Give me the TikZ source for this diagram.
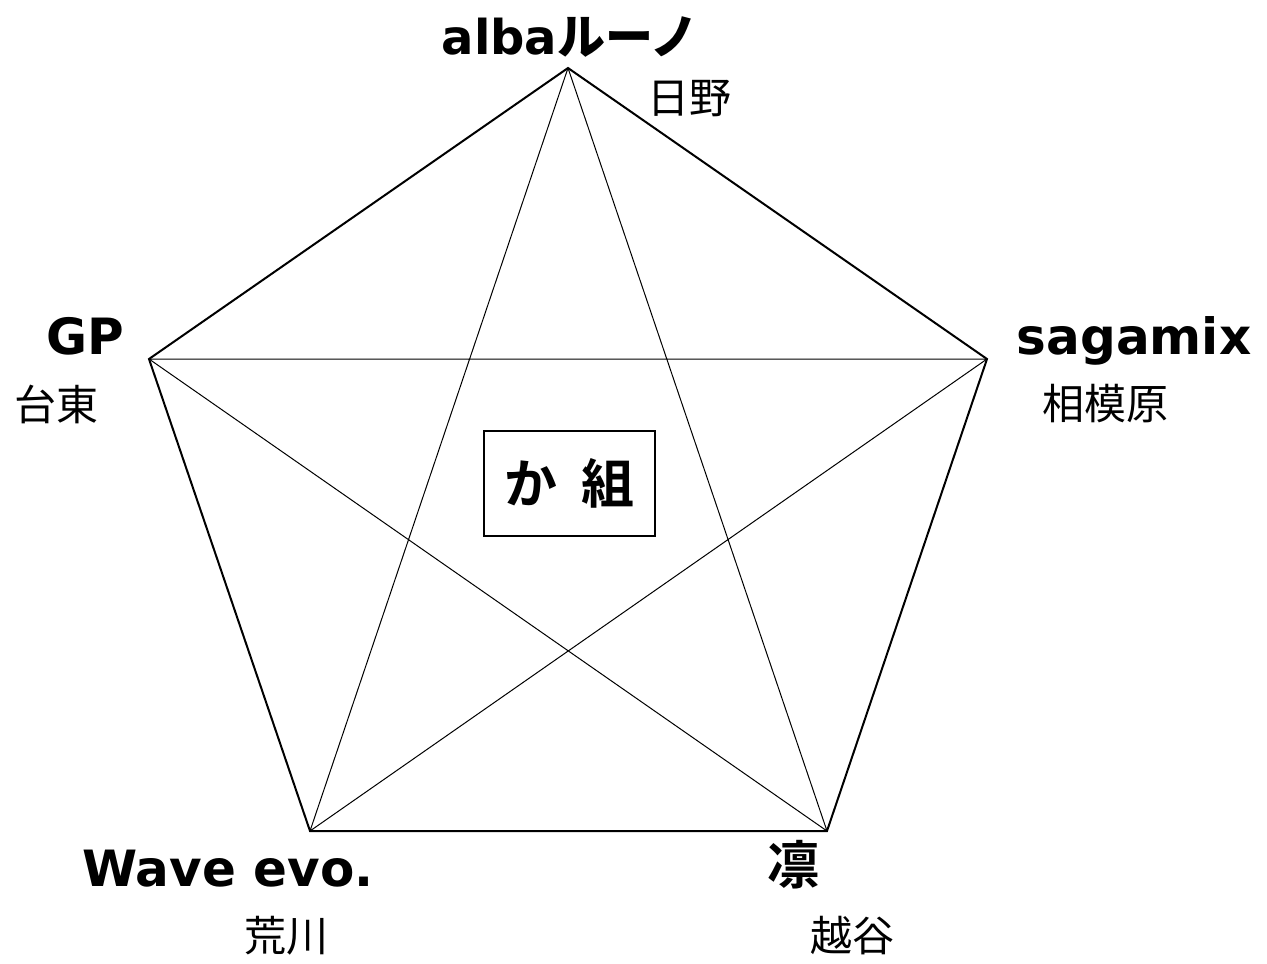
\documentclass[tikz,border=0pt]{standalone}
\usepackage{fontspec}
\setmainfont{DejaVu Sans}
\newfontfamily\cjk{Noto Sans CJK JP}
\newfontfamily\cjkb{Noto Sans CJK JP Bold}
\tikzset{
  team/.style={font=\fontsize{50}{52}\selectfont\bfseries, inner sep=0pt, anchor=base},
  town/.style={font=\fontsize{42}{44}\selectfont\cjk, inner sep=0pt},
  outer/.style={line width=2pt, line join=miter},
  diag/.style={line width=1pt},
}
\begin{document}
\begin{tikzpicture}[x=1pt,y=-1pt]
\useasboundingbox (0,0) rectangle (1267,964);
\coordinate (A) at (568,68);
\coordinate (S) at (987,359);
\coordinate (R) at (827,831);
\coordinate (W) at (310,831);
\coordinate (G) at (149,359);
\draw[diag] (A) -- (R) (A) -- (W) (G) -- (S) (G) -- (R) (S) -- (W);
\draw[outer] (A) -- (S) -- (R) -- (W) -- (G) -- cycle;
\node[draw, line width=2pt, minimum width=171pt, minimum height=105pt, inner sep=0pt,
      font=\fontsize{53}{55}\selectfont\cjkb] (box) at (569.5,483.5) {か\kern 24pt組};
\node[team, font=\fontsize{48}{50}\selectfont\bfseries] (tA) at (570,54) {alba{\cjkb ルーノ}};
\node[town] (cA) at (689,99) {日野};
\node[team] (tG) at (85,354) {GP};
\node[town] (cG) at (56,404) {台東};
\node[team] (tS) at (1134,354) {sagamix};
\node[town] (cS) at (1105,404) {相模原};
\node[team] (tW) at (228,886) {Wave evo.};
\node[town] (cW) at (286,936) {荒川};
\node[team, font=\fontsize{52}{54}\selectfont\cjkb] (tR) at (793,884) {凛};
\node[town] (cR) at (852,936) {越谷};
\end{tikzpicture}
\end{document}
